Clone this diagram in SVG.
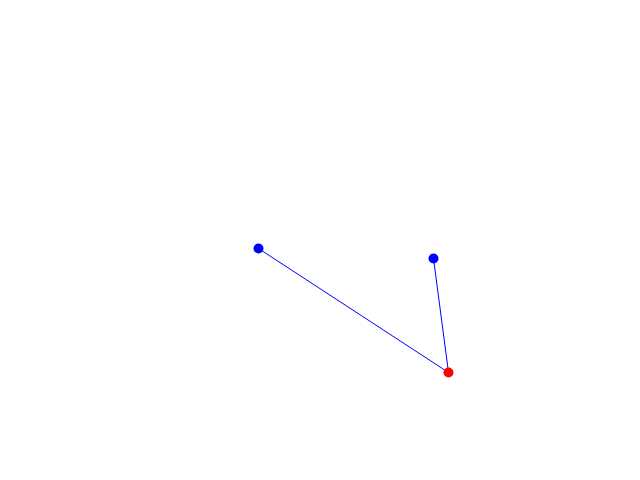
<svg xmlns="http://www.w3.org/2000/svg" width="640" height="480" viewBox="0 0 640 480">
<style>
.edge{stroke:#0000ff;stroke-width:1;fill:none}
.blue{fill:#0000ff}
.red{fill:#ff0000}
</style>
<rect width="640" height="480" fill="#ffffff"/>
<g id="connectors">
<line class="edge" x1="258.5" y1="248.5" x2="448.5" y2="372.5"/>
<line class="edge" x1="433.5" y1="258.5" x2="448.5" y2="372.5"/>
</g>
<g id="node-a"><circle class="blue" cx="258.5" cy="248.5" r="5"/></g>
<g id="node-b"><circle class="blue" cx="433.5" cy="258.5" r="5"/></g>
<g id="node-c"><circle class="red" cx="448.5" cy="372.5" r="5"/></g>
</svg>
